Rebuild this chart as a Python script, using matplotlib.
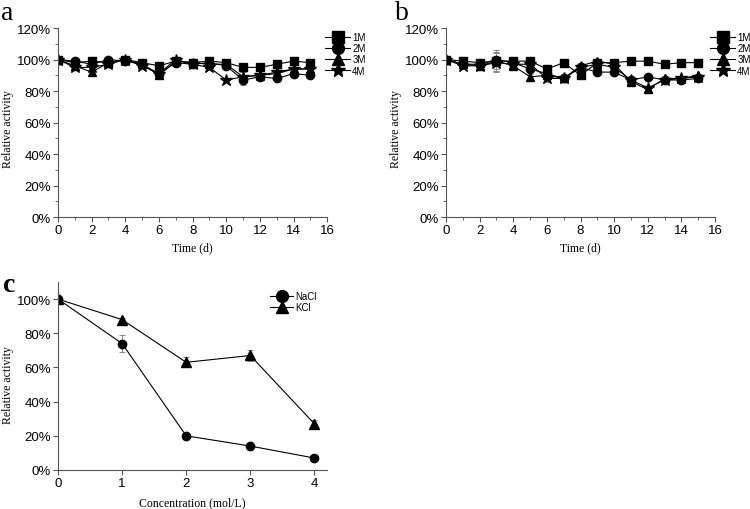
import numpy as np
import matplotlib.pyplot as plt
from matplotlib.lines import Line2D
from matplotlib.ticker import MultipleLocator, FuncFormatter

# ---------------------------
# Data
# ---------------------------
days = list(range(16))

a_1m = [100, 98, 99, 98, 100, 98, 96, 99, 98, 99, 98, 95, 95, 97, 99, 98]
a_2m = [100, 99, 97, 100, 99, 97, 91, 98, 97, 98, 96, 87, 89, 88, 91, 90]
a_3m = [100, 96, 92, 98, 100, 97, 90, 99, 98, 97, 97, 89, 90, 91, 94, 94]
a_4m = [100, 95, 95, 97, 100, 96, 91, 100, 97, 95, 87, 89, 90, 92, 94, 94]
a_err = [0.5, 1, 2, 1, 1, 1, 2, 1.5, 1, 1, 1, 3, 1, 1, 1, 1]

b_1m = [100, 99, 98, 99, 99, 99, 94, 98, 90, 98, 98, 99, 99, 97, 98, 98]
b_2m = [100, 97, 97, 100, 98, 94, 91, 88, 95, 92, 92, 87, 89, 87, 87, 88]
b_3m = [100, 97, 96, 99, 96, 89, 90, 88, 96, 99, 97, 86, 81, 88, 88, 90]
b_4m = [100, 96, 96, 98, 97, 97, 88, 88, 95, 97, 95, 87, 82, 87, 88, 89]
b_err = [0.5, 1, 1.5, 6, 1.5, 2, 2, 1, 2, 1, 2, 1.5, 1, 1, 1, 1]

conc = [0, 1, 2, 3, 4]
nacl = [100, 74, 20, 14, 7]
nacl_err = [0.5, 5, 1, 1, 1]
kcl = [100, 88, 63, 67, 27]
kcl_err = [0.5, 1, 3, 3, 2]

series_labels = ['1M', '2M', '3M', '4M']
series_markers = ['s', 'o', '^', '*']

plt.rcParams['font.family'] = ['Liberation Sans', 'DejaVu Sans']
serif = 'Liberation Serif'

fig = plt.figure(figsize=(7.5, 5.1), dpi=100)

pct = FuncFormatter(lambda v, p: '%d%%' % v)


def style_axes(ax, ylab_y):
    ax.spines['top'].set_visible(False)
    ax.spines['right'].set_visible(False)
    ax.spines['left'].set_color('#555555')
    ax.spines['bottom'].set_color('#555555')
    ax.tick_params(which='both', direction='out', color='#555555', labelsize=9.5, pad=1.5)
    ax.tick_params(which='major', length=3.5)
    ax.tick_params(which='minor', length=2)
    ax.yaxis.set_major_formatter(pct)
    ax.set_ylabel('Relative activity', family=serif, fontsize=8.5, va='center')
    ax.yaxis.set_label_coords(-0.186, ylab_y)


def legend_handles(markers, sizes):
    return [Line2D([], [], color='black', lw=0.8, marker=m, ms=s) for m, s in zip(markers, sizes)]


def time_panel(ax, series, err, letter, letter_x, leg_x):
    for vals, lab, mk in zip(series, series_labels, series_markers):
        ms = 9 if mk == '*' else 6
        ax.errorbar(days, vals, yerr=err, color='black', ecolor='#888888',
                    elinewidth=0.7, capsize=2, capthick=0.7, lw=0.8,
                    marker=mk, ms=ms, label=lab)
    ax.set_xlim(0, 16)
    ax.set_ylim(0, 120)
    ax.xaxis.set_major_locator(MultipleLocator(2))
    ax.xaxis.set_minor_locator(MultipleLocator(1))
    ax.yaxis.set_major_locator(MultipleLocator(20))
    ax.yaxis.set_minor_locator(MultipleLocator(10))
    style_axes(ax, 0.47)
    ax.set_xlabel('Time (d)', family=serif, fontsize=8.5, va='center')
    ax.xaxis.set_label_coords(0.5, -0.159)
    fig.legend(legend_handles(series_markers, [8, 8.5, 8.5, 10.5]), series_labels,
               loc='upper left', bbox_to_anchor=(leg_x, 0.935), bbox_transform=fig.transFigure,
               frameon=False, fontsize=7, handlelength=2.6, handletextpad=0.2,
               labelspacing=0.12, borderpad=0, borderaxespad=0)
    fig.text(letter_x, 0.961, letter, family=serif, fontsize=20, va='baseline')


ax_a = fig.add_axes([0.0773, 0.5725, 0.359, 0.3706])
time_panel(ax_a, [a_1m, a_2m, a_3m, a_4m], a_err, 'a', 0.002, 0.4333)

ax_b = fig.add_axes([0.5947, 0.5725, 0.3587, 0.3706])
time_panel(ax_b, [b_1m, b_2m, b_3m, b_4m], b_err, 'b', 0.527, 0.9467)

# ---------------------------
# Panel c: salt concentration
# ---------------------------
ax_c = fig.add_axes([0.0773, 0.0765, 0.359, 0.3686])
ax_c.errorbar(conc, nacl, yerr=nacl_err, color='black', ecolor='#888888',
              elinewidth=0.7, capsize=2, capthick=0.7, lw=0.8, marker='o', ms=6, label='NaCl')
ax_c.errorbar(conc, kcl, yerr=kcl_err, color='black', ecolor='#888888',
              elinewidth=0.7, capsize=2, capthick=0.7, lw=0.8, marker='^', ms=6.5, label='KCl')
ax_c.set_xlim(0, 4.2)
ax_c.set_ylim(0, 110)
ax_c.xaxis.set_major_locator(MultipleLocator(1))
ax_c.yaxis.set_major_locator(MultipleLocator(20))
style_axes(ax_c, 0.457)
ax_c.set_xlabel('Concentration (mol/L)', family=serif, fontsize=8.5, va='center')
ax_c.xaxis.set_label_coords(0.5, -0.17)
fig.legend(legend_handles(['o', '^'], [8.5, 8.5]), ['NaCl', 'KCl'],
           loc='upper left', bbox_to_anchor=(0.36, 0.4275), bbox_transform=fig.transFigure,
           frameon=False, fontsize=7, handlelength=2.4, handletextpad=0.2,
           labelspacing=0.12, borderpad=0, borderaxespad=0)
fig.text(0.004, 0.4275, 'c', family=serif, fontsize=20, fontweight='bold', va='baseline')

plt.savefig('out.png', dpi=100)
